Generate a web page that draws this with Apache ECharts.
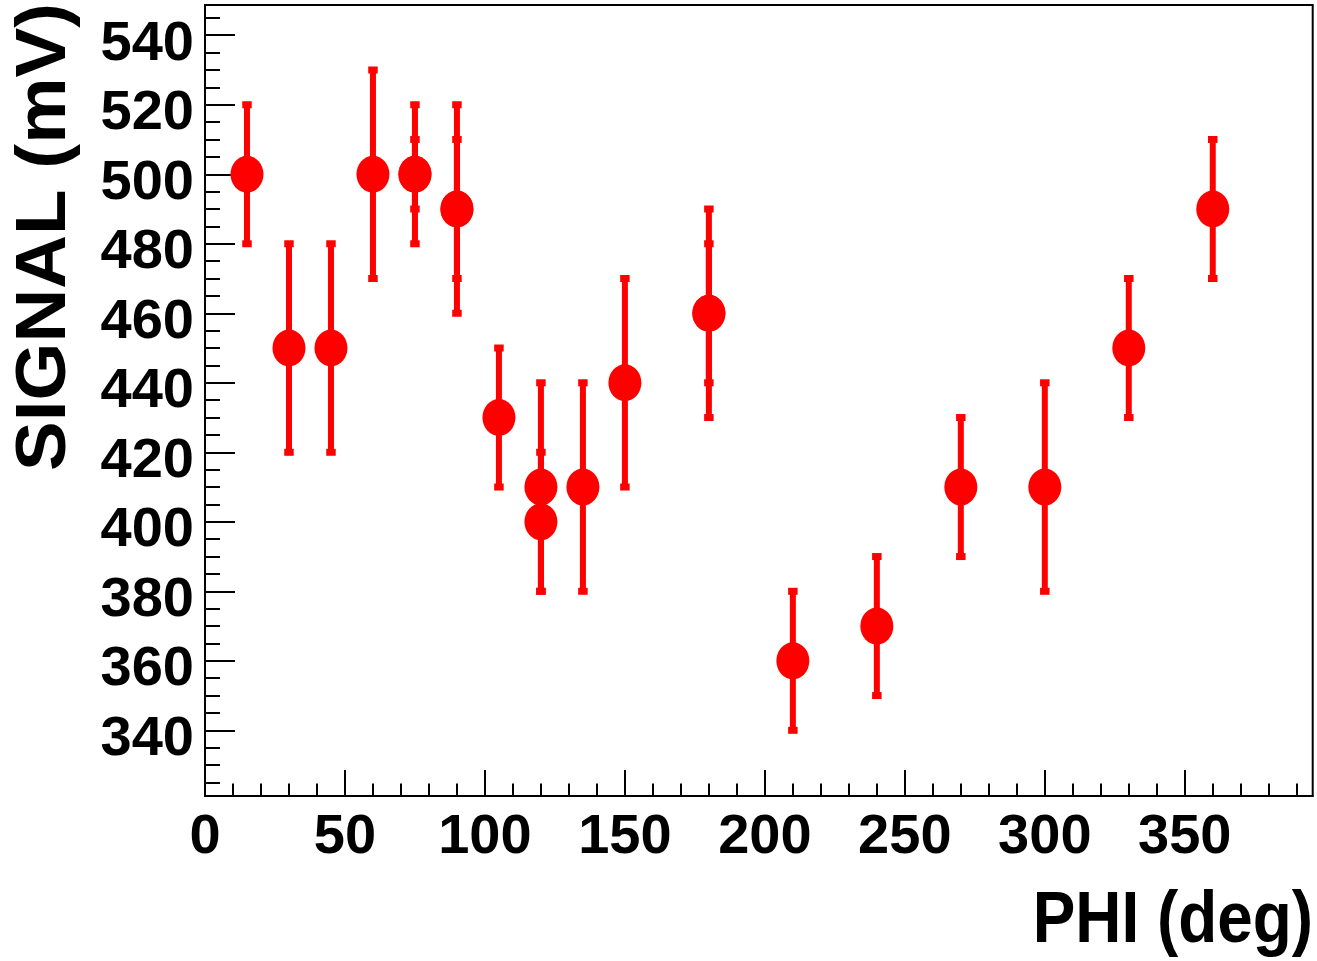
<!DOCTYPE html>
<html>
<head>
<meta charset="utf-8">
<script src="https://cdn.jsdelivr.net/npm/echarts@6/dist/echarts.min.js"></script>
<style>
  html, body { margin: 0; padding: 0; background: #fff; }
  #chart { width: 1317px; height: 961px; }
</style>
</head>
<body>
<div id="chart"></div>
<script>
// ---- data ----
const phi    = [15, 30, 45, 60, 75, 75, 90, 90, 105, 120, 120, 135, 150, 180, 180, 210, 240, 270, 300, 330, 360];
const signal = [500, 450, 450, 500, 500, 500, 490, 490, 430, 410, 400, 410, 440, 460, 460, 360, 370, 410, 410, 450, 490];
const sigErr = [20, 30, 30, 30, 20, 10, 30, 20, 20, 30, 20, 30, 30, 30, 20, 20, 20, 20, 30, 20, 20];

const xTickLabels = [0, 50, 100, 150, 200, 250, 300, 350];
const yTickLabels = [340, 360, 380, 400, 420, 440, 460, 480, 500, 520, 540];

const xTitle = 'PHI (deg)';
const yTitle = 'SIGNAL (mV)';

// ---- axis extents ----
const X_MIN = 0, X_MAX = 395.7;
const Y_MIN = 321.1, Y_MAX = 548.7;

// minor tick positions
const xMinor = [];
for (let v = 10; v < X_MAX; v += 10) if (v % 50 !== 0) xMinor.push(v);
const yMinor = [];
for (let v = 325; v < Y_MAX; v += 5) if (v % 20 !== 0) yMinor.push(v);

const RED = '#ff0000';
const labelFont = '"Liberation Sans", Arial, sans-serif';
const titleFont = '"Liberation Sans", Arial, sans-serif';

const errData = phi.map((p, i) => [p, signal[i], sigErr[i]]);
const ptData = phi.map((p, i) => [p, signal[i]]);

const chart = echarts.init(document.getElementById('chart'), null, { renderer: 'canvas' });

const option = {
  animation: false,
  backgroundColor: '#fff',
  grid: {
    left: 205, right: 4.3, top: 5, bottom: 165,
    show: true, borderColor: '#000', borderWidth: 2,
    containLabel: false, outerBoundsMode: 'none'
  },
  xAxis: [
    {
      type: 'value', min: X_MIN, max: X_MAX, position: 'bottom',
      axisLine: { show: true, onZero: false, lineStyle: { color: '#000', width: 2 } },
      axisTick: { show: true, inside: true, length: 26, customValues: xTickLabels, lineStyle: { color: '#000', width: 2 } },
      axisLabel: {
        show: true, customValues: xTickLabels, margin: 14,
        fontFamily: labelFont, fontSize: 56, fontWeight: 'bold', color: '#000'
      },
      splitLine: { show: false }
    },
    {
      type: 'value', min: X_MIN, max: X_MAX, position: 'bottom',
      axisLine: { show: false },
      axisTick: { show: true, inside: true, length: 12.5, customValues: xMinor, lineStyle: { color: '#000', width: 2 } },
      axisLabel: { show: false },
      splitLine: { show: false }
    }
  ],
  yAxis: [
    {
      type: 'value', min: Y_MIN, max: Y_MAX, position: 'left',
      axisLine: { show: true, onZero: false, lineStyle: { color: '#000', width: 2 } },
      axisTick: { show: true, inside: true, length: 30, customValues: yTickLabels, lineStyle: { color: '#000', width: 2 } },
      axisLabel: {
        show: true, customValues: yTickLabels, margin: 11,
        verticalAlign: 'top', lineHeight: 18,
        fontFamily: labelFont, fontSize: 56, fontWeight: 'bold', color: '#000'
      },
      splitLine: { show: false }
    },
    {
      type: 'value', min: Y_MIN, max: Y_MAX, position: 'left',
      axisLine: { show: false },
      axisTick: { show: true, inside: true, length: 15, customValues: yMinor, lineStyle: { color: '#000', width: 2 } },
      axisLabel: { show: false },
      splitLine: { show: false }
    }
  ],
  graphic: [
    {
      type: 'text', x: 1313, y: 922, scaleX: 0.875,
      style: { text: xTitle, font: 'bold 73px ' + titleFont, fill: '#000', align: 'right', verticalAlign: 'middle' }
    },
    {
      type: 'text', x: 45, y: 237, rotation: Math.PI / 2, scaleX: 1.05,
      style: { text: yTitle, font: 'bold 71px ' + titleFont, fill: '#000', align: 'center', verticalAlign: 'middle' }
    }
  ],
  series: [
    {
      type: 'custom',
      xAxisIndex: 0, yAxisIndex: 0,
      data: errData,
      encode: { x: 0, y: 1 },
      z: 2,
      renderItem: function (params, api) {
        const x = api.value(0), y = api.value(1), e = api.value(2);
        const top = api.coord([x, y + e]);
        const bot = api.coord([x, y - e]);
        const capW = 9.5, capH = 7;
        return {
          type: 'group',
          children: [
            { type: 'line', shape: { x1: top[0], y1: top[1], x2: bot[0], y2: bot[1] }, style: { stroke: RED, lineWidth: 6 } },
            { type: 'rect', shape: { x: top[0] - capW / 2, y: top[1] - capH / 2, width: capW, height: capH }, style: { fill: RED } },
            { type: 'rect', shape: { x: bot[0] - capW / 2, y: bot[1] - capH / 2, width: capW, height: capH }, style: { fill: RED } }
          ]
        };
      }
    },
    {
      type: 'scatter',
      xAxisIndex: 0, yAxisIndex: 0,
      data: ptData,
      symbol: 'circle',
      symbolSize: [33, 37],
      itemStyle: { color: RED, opacity: 1 },
      z: 3
    }
  ]
};

chart.setOption(option);
</script>
</body>
</html>
